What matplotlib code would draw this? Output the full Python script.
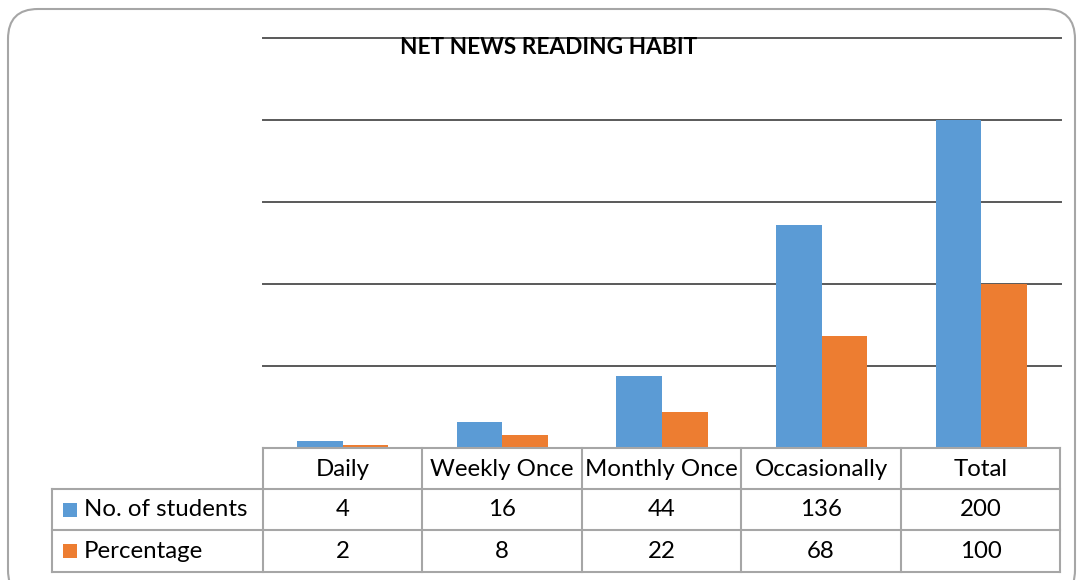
import matplotlib
matplotlib.use("Agg")
import matplotlib.pyplot as plt
from matplotlib.patches import FancyBboxPatch, Rectangle
from matplotlib.lines import Line2D

categories = ["Daily", "Weekly Once", "Monthly Once", "Occasionally", "Total"]
series_names = ["No. of students", "Percentage"]
students = [4, 16, 44, 136, 200]
percentage = [2, 8, 22, 68, 100]
colors = ["#5B9BD5", "#ED7D31"]
title = "NET NEWS READING HABIT"

W, H = 1079, 580
plt.rcParams['font.family'] = ['Lato', 'DejaVu Sans']
fig = plt.figure(figsize=(W / 100, H / 100), dpi=100)

def fx(px):
    return px / W

def fy(py):
    return 1 - py / H

# outer rounded border
border = FancyBboxPatch((8 / 100, -0.2), (1075 - 8) / 100, (H - 9) / 100 + 0.2,
                        boxstyle="round,pad=0,rounding_size=0.3",
                        transform=fig.dpi_scale_trans, facecolor="none",
                        edgecolor="#a6a6a6", linewidth=1.5, zorder=0)
fig.patches.append(border)

left, right, top, bottom = 263, 1061, 38, 448
ax = fig.add_axes([fx(left), fy(bottom), fx(right) - fx(left), fy(top) - fy(bottom)])
ax.set_facecolor("none")
bw = 0.286
xs = range(len(categories))
ax.bar([x - bw / 2 for x in xs], students, width=bw, color=colors[0], zorder=3)
ax.bar([x + bw / 2 for x in xs], percentage, width=bw, color=colors[1], zorder=3)
ax.set_xlim(-0.5, len(categories) - 0.5)
ax.set_ylim(0, 250)
ax.set_yticks([50, 100, 150, 200, 250])
ax.yaxis.grid(True, color="#595959", linewidth=1.4, zorder=1)
for gl in ax.get_ygridlines():
    gl.set_clip_on(False)
ax.tick_params(left=False, bottom=False, labelleft=False, labelbottom=False)
for s in ax.spines.values():
    s.set_visible(False)

fig.text(fx(549), fy(48), title, ha="center", va="center", fontsize=16.3,
         fontweight="bold", color="#000000")

# data table
col_edges = [263, 422, 582, 741, 901, 1060]
row_edges = [448, 489, 530, 572]
lc = "#a6a6a6"
lw = 1.5
for i, ry in enumerate(row_edges):
    x0 = 263 if i == 0 else 52
    fig.add_artist(Line2D([fx(x0), fx(1060)], [fy(ry), fy(ry)], color=lc, lw=lw))
for cx in col_edges:
    fig.add_artist(Line2D([fx(cx), fx(cx)], [fy(448), fy(572)], color=lc, lw=lw))
fig.add_artist(Line2D([fx(52), fx(52)], [fy(489), fy(572)], color=lc, lw=lw))

fs = 17.3
for i, cat in enumerate(categories):
    cx = (col_edges[i] + col_edges[i + 1]) / 2
    fig.text(fx(cx), fy(469), cat, ha="center", va="center", fontsize=fs)
    fig.text(fx(cx), fy(510), str(students[i]), ha="center", va="center", fontsize=fs)
    fig.text(fx(cx), fy(551), str(percentage[i]), ha="center", va="center", fontsize=fs)

for j, (name, c) in enumerate(zip(series_names, colors)):
    yc = 510 + 41 * j
    fig.add_artist(Rectangle((fx(63), fy(yc + 7)), fx(14), fy(0) - fy(14),
                             facecolor=c, edgecolor="none"))
    fig.text(fx(84), fy(yc), name, ha="left", va="center", fontsize=fs)

fig.savefig("out.png", dpi=100)
